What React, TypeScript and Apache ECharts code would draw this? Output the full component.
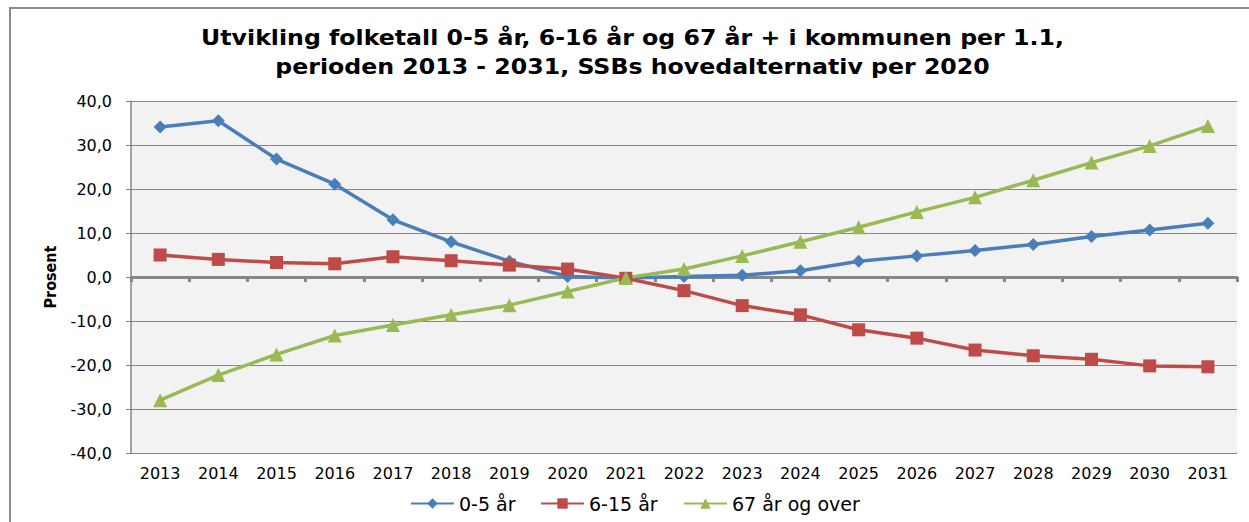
import React, { useEffect, useRef } from "react";
import * as echarts from "echarts";

const years = ["2013","2014","2015","2016","2017","2018","2019","2020","2021","2022","2023","2024","2025","2026","2027","2028","2029","2030","2031"];
const age0to5 = [34.1, 35.5, 26.8, 21.1, 13.0, 8.0, 3.6, 0.1, -0.2, 0.1, 0.4, 1.4, 3.6, 4.8, 6.0, 7.4, 9.2, 10.7, 12.2];
const age6to15 = [5.0, 4.0, 3.3, 3.0, 4.6, 3.7, 2.7, 1.8, -0.3, -3.1, -6.5, -8.6, -12.0, -13.9, -16.6, -17.9, -18.7, -20.2, -20.4];
const age67plus = [-28.0, -22.3, -17.6, -13.3, -10.9, -8.6, -6.4, -3.3, -0.2, 1.8, 4.8, 8.0, 11.3, 14.8, 18.1, 22.0, 26.0, 29.8, 34.3];
const seriesNames = ["0-5 år", "6-15 år", "67 år og over"];
const titleLines = [
  "Utvikling folketall 0-5 år, 6-16 år og 67 år + i kommunen per 1.1,",
  "perioden 2013 - 2031, SSBs hovedalternativ per 2020",
];
const legendLefts = [410, 540, 683];

const FONT = "'DejaVu Sans', 'Noto Sans', sans-serif";
const CONDENSED = "'DejaVu Sans Condensed', 'DejaVu Sans', sans-serif";

export default function App() {
  const ref = useRef<HTMLDivElement>(null);
  useEffect(() => {
    if (!ref.current) return;
    const chart = echarts.init(ref.current, undefined, { renderer: "svg" });
    const mk = (name: string, data: number[], color: string, symbol: string, size: number) => ({
      name,
      type: "line",
      data,
      xAxisIndex: 0,
      symbol,
      symbolSize: size,
      lineStyle: { color, width: 3.5 },
      itemStyle: { color },
      z: 5,
    });
    const titleText = (text: string, y: number) => ({
      type: "text",
      x: 632.5,
      y,
      scaleX: 1.1,
      style: {
        text,
        textAlign: "center",
        textVerticalAlign: "middle",
        fontFamily: FONT,
        fontWeight: "bold",
        fontSize: 21.5,
        fill: "#000",
      },
    });
    chart.setOption({
      animation: false,
      backgroundColor: "#ffffff",
      graphic: [
        {
          type: "rect",
          shape: { x: 10, y: 8, width: 1280, height: 560 },
          style: { fill: "none", stroke: "#8c8c8c", lineWidth: 2 },
          silent: true,
        },
        titleText(titleLines[0], 37),
        titleText(titleLines[1], 66),
      ],
      grid: {
        left: 131,
        right: 12,
        top: 101,
        bottom: 69,
        show: true,
        backgroundColor: "#f2f2f2",
        borderWidth: 0,
      },
      legend: seriesNames.map((n, i) => ({
        left: legendLefts[i],
        top: 494,
        padding: 0,
        itemWidth: 43,
        itemHeight: 13,
        textStyle: { fontFamily: FONT, fontSize: 19, color: "#000" },
        data: [n],
      })),
      xAxis: [
        {
          type: "category",
          data: years,
          position: "bottom",
          axisLine: { show: false, onZero: false },
          axisTick: { show: false },
          axisLabel: { fontFamily: FONT, fontSize: 16, color: "#000", margin: 12 },
          splitLine: { show: false },
        },
        {
          type: "category",
          data: years,
          position: "bottom",
          axisLine: { show: true, onZero: true, lineStyle: { color: "#868686", width: 3 } },
          axisTick: { show: true, length: 5, lineStyle: { color: "#868686", width: 3 } },
          axisLabel: { show: false },
          splitLine: { show: false },
          z: 3,
        },
      ],
      yAxis: {
        type: "value",
        min: -40,
        max: 40,
        interval: 10,
        name: "Prosent",
        nameLocation: "middle",
        nameGap: 73,
        nameTextStyle: { fontFamily: CONDENSED, fontSize: 16, fontWeight: "bold", color: "#000" },
        axisLine: { show: true, lineStyle: { color: "#868686", width: 1.5 } },
        axisTick: { show: true, length: 5, lineStyle: { color: "#868686" } },
        axisLabel: {
          fontFamily: FONT,
          fontSize: 16,
          color: "#000",
          margin: 19,
          formatter: (v: number) => v.toFixed(1).replace(".", ","),
        },
        splitLine: { show: true, lineStyle: { color: "#868686", width: 1 } },
      },
      series: [
        mk(seriesNames[0], age0to5, "#4a7ebb", "diamond", 13),
        mk(seriesNames[1], age6to15, "#be4b48", "rect", 13),
        mk(seriesNames[2], age67plus, "#98b954", "triangle", 14),
      ],
    });
    return () => chart.dispose();
  }, []);
  return (
    <div
      ref={ref}
      style={{ position: "fixed", left: 0, top: 0, width: 1249, height: 522 }}
    />
  );
}
